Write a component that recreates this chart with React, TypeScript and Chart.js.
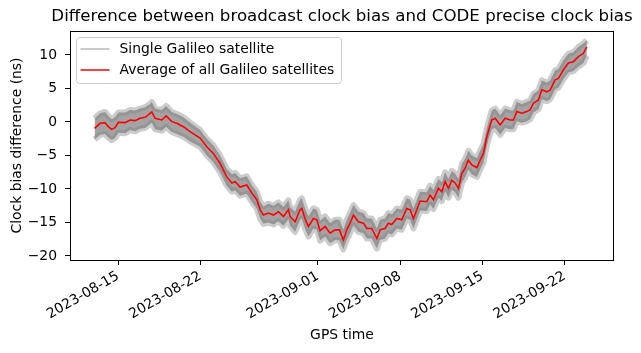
import { useEffect, useRef } from 'react';
import { Chart, registerables } from 'chart.js';

Chart.register(...registerables);

const FONT = "'DejaVu Sans', sans-serif";

// Days since 2023-08-13 00:00 (GPS time)
const sampleDays = [
  0.00, 0.47, 0.89, 1.17, 1.46, 1.74, 2.03, 2.60, 3.02, 3.45,
  3.87, 4.30, 4.72, 4.87, 5.15, 5.72, 6.09, 6.57, 7.00, 7.56,
  8.13, 8.98, 9.55, 10.11, 10.68, 11.25, 11.68, 11.96, 12.38, 12.95,
  13.38, 13.80, 14.09, 14.37, 14.79, 15.22, 15.64, 16.07, 16.49, 16.64,
  17.06, 17.49, 17.63, 17.91, 18.20, 18.62, 18.91, 19.19, 19.62, 20.04,
  20.47, 20.83, 21.17, 21.46, 21.74, 22.03, 22.45, 22.88, 23.17, 23.59,
  24.02, 24.30, 24.72, 25.00, 25.29, 25.72, 26.14, 26.57, 26.85, 27.13,
  27.70, 28.27, 28.55, 28.83, 29.26, 29.55, 29.83, 30.11, 30.40, 30.68,
  30.96, 31.25, 31.53, 31.81, 32.10, 32.53, 32.81, 33.09, 33.38, 33.57,
  33.80, 34.09, 34.51, 34.94, 35.36, 35.64, 35.93, 36.36, 36.78, 37.06,
  37.34, 37.77, 38.06, 38.49, 38.77, 39.19, 39.47, 39.90, 40.32, 40.75,
  41.17, 41.60, 41.89,
];

// Average of all Galileo satellites (ns)
const averageNs = [
  -0.94, -0.20, -0.10, -0.70, -1.10, -0.85, -0.05, -0.10, 0.30, 0.20,
  0.55, 0.70, 1.30, 1.50, 0.55, 0.30, 0.90, 0.05, -0.20, -0.70,
  -1.45, -2.40, -3.70, -4.70, -6.20, -8.20, -9.10, -8.90, -9.70, -9.40,
  -10.60, -11.60, -13.10, -13.90, -13.60, -13.90, -13.40, -14.10, -13.10, -14.10,
  -14.90, -13.10, -12.90, -14.40, -15.60, -14.40, -14.60, -16.20, -15.60, -16.60,
  -16.10, -16.10, -17.60, -16.10, -15.10, -13.90, -14.90, -15.10, -15.90, -15.90,
  -17.40, -16.10, -15.90, -15.10, -15.30, -14.40, -14.60, -12.90, -13.10, -14.40,
  -11.80, -11.90, -10.90, -11.60, -9.90, -10.40, -8.90, -9.90, -8.70, -9.10,
  -9.90, -7.70, -6.90, -5.70, -6.40, -6.80, -5.70, -4.70, -2.20, -1.00,
  0.30, 0.55, -0.45, 0.55, 0.30, 0.30, 1.55, 1.30, 1.55, 1.80,
  2.80, 3.30, 4.80, 4.50, 4.80, 6.30, 6.50, 7.80, 8.80, 9.00,
  9.75, 10.25, 11.20,
];

// Upper edge of the bundle of single-satellite curves (ns)
const satelliteUpperNs = [
  0.5, 1.3, 1.5, 0.9, 0.4, 0.7, 1.4, 1.4, 1.8, 1.7,
  2.0, 2.2, 2.7, 3.0, 2.0, 1.8, 2.4, 1.5, 1.2, 0.7,
  -0.1, -1.2, -2.5, -3.5, -5.0, -7.0, -7.8, -7.6, -8.4, -8.1,
  -9.4, -10.4, -11.9, -12.6, -12.2, -12.5, -12.0, -12.7, -11.7, -12.7,
  -13.4, -11.6, -11.4, -12.9, -14.1, -12.9, -13.1, -14.7, -14.1, -15.1,
  -14.6, -14.6, -16.1, -14.6, -13.6, -12.4, -13.4, -13.6, -14.4, -14.4,
  -15.9, -14.6, -14.4, -13.6, -13.8, -12.9, -13.1, -11.4, -11.6, -12.9,
  -10.4, -10.5, -9.5, -10.2, -8.5, -9.0, -7.5, -8.5, -7.3, -7.7,
  -8.5, -6.3, -5.5, -4.3, -5.0, -5.4, -4.3, -3.3, -0.9, 0.3,
  1.7, 2.0, 1.0, 2.0, 1.7, 1.7, 3.0, 2.7, 3.0, 3.2,
  4.2, 4.7, 6.2, 5.9, 6.2, 7.7, 7.9, 9.2, 10.2, 10.4,
  11.2, 11.7, 12.2,
];

// Lower edge of the bundle of single-satellite curves (ns)
const satelliteLowerNs = [
  -2.6, -1.9, -1.8, -2.3, -2.7, -2.4, -1.6, -1.7, -1.2, -1.4,
  -1.0, -0.9, -0.3, -0.1, -1.1, -1.3, -0.7, -1.5, -1.8, -2.2,
  -2.9, -3.7, -5.0, -6.0, -7.5, -9.5, -10.4, -10.2, -11.0, -10.7,
  -11.9, -12.9, -14.4, -15.2, -15.0, -15.3, -14.8, -15.5, -14.5, -15.5,
  -16.4, -14.6, -14.4, -15.9, -17.1, -15.9, -16.1, -17.7, -17.1, -18.1,
  -17.6, -17.7, -19.0, -17.6, -16.6, -15.4, -16.4, -16.6, -17.4, -17.4,
  -18.9, -17.6, -17.4, -16.6, -16.8, -15.9, -16.1, -14.4, -14.6, -15.9,
  -13.2, -13.3, -12.3, -13.0, -11.3, -11.8, -10.3, -11.3, -10.1, -10.5,
  -11.3, -9.1, -8.3, -7.1, -7.8, -8.2, -7.1, -6.1, -3.5, -2.3,
  -1.1, -0.9, -1.9, -0.9, -1.1, -1.1, 0.1, -0.1, 0.1, 0.4,
  1.4, 1.9, 3.4, 3.1, 3.4, 4.9, 5.1, 6.4, 7.4, 7.6,
  8.3, 8.8, 9.9,
];

const xTickDays = [2, 9, 19, 26, 33, 40];
const xTickLabels = ['2023-08-15', '2023-08-22', '2023-09-01', '2023-09-08', '2023-09-15', '2023-09-22'];
const yTickValues = [-20, -15, -10, -5, 0, 5, 10];

const TITLE = 'Difference between broadcast clock bias and CODE precise clock bias';
const LABEL_SINGLE = 'Single Galileo satellite';
const LABEL_AVG = 'Average of all Galileo satellites';

const toPoints = (ys: number[]) => ys.map((y, i) => ({ x: sampleDays[i], y }));

const framePlugin = {
  id: 'frame',
  afterDatasetsDraw(chart: any) {
    const { ctx, chartArea: a } = chart;
    ctx.save();
    ctx.strokeStyle = '#000';
    ctx.lineWidth = 1;
    ctx.strokeRect(Math.round(a.left) + 0.5, Math.round(a.top) + 0.5, Math.round(a.right - a.left) - 1, Math.round(a.bottom - a.top));
    ctx.restore();
  },
};

const titlePlugin = {
  id: 'axesTitle',
  afterDraw(chart: any) {
    const { ctx, chartArea: a } = chart;
    ctx.save();
    ctx.font = `16.67px ${FONT}`;
    ctx.fillStyle = '#000';
    ctx.textAlign = 'center';
    ctx.textBaseline = 'middle';
    ctx.fillText(TITLE, (a.left + a.right) / 2, 17);
    ctx.restore();
  },
};

const legendPlugin = {
  id: 'innerLegend',
  afterDraw(chart: any) {
    const { ctx, chartArea: a } = chart;
    const x0 = a.left + 6.5;
    const y0 = a.top + 6.5;
    const w = 265;
    const h = 46;
    const r = 3;
    ctx.save();
    ctx.beginPath();
    ctx.moveTo(x0 + r, y0);
    ctx.lineTo(x0 + w - r, y0);
    ctx.quadraticCurveTo(x0 + w, y0, x0 + w, y0 + r);
    ctx.lineTo(x0 + w, y0 + h - r);
    ctx.quadraticCurveTo(x0 + w, y0 + h, x0 + w - r, y0 + h);
    ctx.lineTo(x0 + r, y0 + h);
    ctx.quadraticCurveTo(x0, y0 + h, x0, y0 + h - r);
    ctx.lineTo(x0, y0 + r);
    ctx.quadraticCurveTo(x0, y0, x0 + r, y0);
    ctx.closePath();
    ctx.fillStyle = 'rgba(255,255,255,0.8)';
    ctx.fill();
    ctx.strokeStyle = '#cccccc';
    ctx.lineWidth = 1;
    ctx.stroke();

    const entries = [
      { label: LABEL_SINGLE, color: 'rgba(128,128,128,0.55)', y: y0 + 11.5 },
      { label: LABEL_AVG, color: '#ff0000', y: y0 + 32.5 },
    ];
    ctx.font = `13.9px ${FONT}`;
    ctx.textBaseline = 'middle';
    ctx.textAlign = 'left';
    for (const e of entries) {
      ctx.beginPath();
      ctx.strokeStyle = e.color;
      ctx.lineWidth = 1.5;
      ctx.moveTo(x0 + 4, e.y);
      ctx.lineTo(x0 + 33, e.y);
      ctx.stroke();
      ctx.fillStyle = '#000';
      ctx.fillText(e.label, x0 + 43, e.y + 0.5);
    }
    ctx.restore();
  },
};

export default function App() {
  const canvasRef = useRef<HTMLCanvasElement | null>(null);

  useEffect(() => {
    const canvas = canvasRef.current;
    if (!canvas) return;
    const chart = new Chart(canvas, {
      type: 'line',
      data: {
        datasets: [
          {
            label: LABEL_SINGLE,
            data: toPoints(satelliteUpperNs),
            borderColor: 'rgba(128,128,128,0.4)',
            backgroundColor: 'rgba(128,128,128,0.72)',
            borderWidth: 6,
            borderJoinStyle: 'round',
            fill: '+1',
            pointRadius: 0,
            tension: 0,
            order: 2,
          },
          {
            label: LABEL_SINGLE + ' (lower)',
            data: toPoints(satelliteLowerNs),
            borderColor: 'rgba(128,128,128,0.4)',
            borderWidth: 6,
            borderJoinStyle: 'round',
            fill: false,
            pointRadius: 0,
            tension: 0,
            order: 1,
          },
          {
            label: LABEL_AVG,
            data: toPoints(averageNs),
            borderColor: '#ff0000',
            borderWidth: 1.6,
            fill: false,
            pointRadius: 0,
            tension: 0,
            order: 0,
          },
        ],
      },
      options: {
        responsive: false,
        animation: false,
        devicePixelRatio: 1,
        layout: { padding: { left: 0, right: 27, top: 31, bottom: 0 } },
        plugins: {
          legend: { display: false },
          tooltip: { enabled: false },
          title: { display: false },
        },
        scales: {
          x: {
            type: 'linear',
            min: -2.09,
            max: 44.2,
            afterFit(scale: any) {
              scale.height = 93;
            },
            afterBuildTicks(scale: any) {
              scale.ticks = xTickDays.map((v) => ({ value: v }));
            },
            ticks: {
              autoSkip: false,
              maxRotation: 30,
              minRotation: 30,
              padding: 3,
              color: '#000',
              font: { family: FONT, size: 13.9 },
              callback: (v: any) => {
                const i = xTickDays.indexOf(Number(v));
                return i >= 0 ? xTickLabels[i] : '';
              },
            },
            grid: { drawOnChartArea: false, drawTicks: true, tickLength: 5, color: '#000' },
            border: { display: false },
            title: {
              display: true,
              text: 'GPS time',
              color: '#000',
              font: { family: FONT, size: 13.9 },
              padding: { top: 0, bottom: 9.5 },
            },
          },
          y: {
            type: 'linear',
            min: -20.6,
            max: 13.58,
            afterFit(scale: any) {
              scale.width = 70;
            },
            afterBuildTicks(scale: any) {
              scale.ticks = yTickValues.map((v) => ({ value: v }));
            },
            ticks: {
              padding: 8,
              color: '#000',
              font: { family: FONT, size: 13.9 },
              callback: (v: any) => String(v).replace('-', '\u2212'),
            },
            grid: { drawOnChartArea: false, drawTicks: true, tickLength: 5, color: '#000' },
            border: { display: false },
            title: {
              display: true,
              text: 'Clock bias difference (ns)',
              color: '#000',
              font: { family: FONT, size: 13.9 },
              padding: { top: 8.7, bottom: 0 },
            },
          },
        },
      } as any,
      plugins: [framePlugin, titlePlugin, legendPlugin],
    });
    return () => chart.destroy();
  }, []);

  return (
    <div style={{ position: 'fixed', left: 0, top: 0, width: 641, height: 353, background: '#fff' }}>
      <canvas ref={canvasRef} width={641} height={353} />
    </div>
  );
}
